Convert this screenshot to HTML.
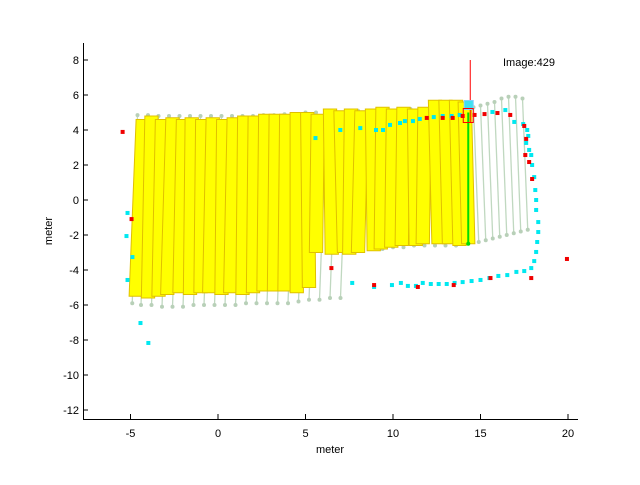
<!DOCTYPE html>
<html><head><meta charset="utf-8"><style>
body{margin:0;background:#fff;}
svg text{font-family:"Liberation Sans",sans-serif;font-size:11px;fill:#000;}
</style></head><body>
<svg id="c" width="640" height="480" xmlns="http://www.w3.org/2000/svg">
<rect width="640" height="480" fill="#fff"/>
<g id="gray"></g><g id="strips"></g><g id="pts"></g><g id="axes"></g>
</svg>
<script>
const xTicks=[-5,0,5,10,15,20];
const yTicks=[8,6,4,2,0,-2,-4,-6,-8,-10,-12];
const stripXTop=[-4.3,-3.8,-3.2,-2.6,-2.0,-1.5,-0.9,-0.3,0.3,0.9,1.5,2.1,2.7,3.3,3.9,4.5,5.1,5.7,6.4,7.0,7.6,8.2,8.8,9.4,10.0,10.6,11.2,11.8,12.4,13.0,13.6,14.1];
const stripXBot=[-4.7,-4.0,-3.4,-2.9,-2.2,-1.6,-1.0,-0.5,0.2,0.7,1.4,2.0,2.6,3.2,3.8,4.5,5.2,5.6,6.5,7.2,7.5,8.0,8.9,9.3,9.9,10.5,11.3,11.7,12.6,13.2,13.8,14.3];
const stripTop=[4.6,4.8,4.6,4.7,4.6,4.7,4.6,4.7,4.6,4.7,4.8,4.8,4.9,4.9,4.9,5.0,5.0,4.9,5.2,5.1,5.2,5.1,5.2,5.3,5.2,5.3,5.2,5.3,5.7,5.7,5.7,5.6];
const stripBot=[-5.5,-5.6,-5.5,-5.4,-5.3,-5.4,-5.3,-5.3,-5.4,-5.3,-5.4,-5.3,-5.2,-5.2,-5.2,-5.3,-5.0,-3.0,-3.1,-3.0,-3.1,-3.0,-2.9,-2.8,-2.7,-2.6,-2.6,-2.5,-2.5,-2.5,-2.6,-2.5];
const grayTopX=[-4.6,-4.0,-3.4,-2.8,-2.2,-1.6,-1.0,-0.4,0.2,0.8,1.4,2.0,2.6,3.2,3.8,4.4,5.0,5.6,6.2,6.8,7.4,8.0,8.6,9.2,9.8,10.4,11.0,11.6,12.2,12.8,13.4,14.0,14.6,15.0,15.4,15.8,16.2,16.6,17.0,17.4];
const grayTopY=[4.85,4.85,4.8,4.8,4.8,4.8,4.8,4.8,4.8,4.8,4.8,4.8,4.85,4.85,4.9,4.9,5.0,5.0,5.0,5.0,5.1,5.1,5.1,5.1,5.1,5.2,5.2,5.2,5.2,5.2,5.2,5.3,5.3,5.4,5.5,5.6,5.8,5.9,5.9,5.8];
const grayBotX=[-4.9,-4.4,-3.8,-3.2,-2.6,-2.0,-1.4,-0.8,-0.2,0.4,1.0,1.6,2.2,2.8,3.4,4.0,4.6,5.2,5.8,6.4,7.0,7.6,8.2,8.8,9.4,10.0,10.6,11.2,11.8,12.4,13.0,13.6,14.9,15.3,15.7,16.1,16.5,16.9,17.3,17.7];
const grayBotY=[-5.9,-6.0,-6.0,-6.1,-6.1,-6.1,-6.0,-6.0,-6.0,-6.0,-6.0,-5.9,-5.9,-5.9,-5.9,-5.9,-5.8,-5.7,-5.7,-5.6,-5.6,-2.9,-2.9,-2.8,-2.8,-2.7,-2.7,-2.6,-2.6,-2.6,-2.6,-2.6,-2.4,-2.3,-2.2,-2.1,-2.0,-1.9,-1.8,-1.7];
const cyanX=[-5.17,-5.23,-4.89,-5.17,-4.43,-3.98,5.57,6.99,8.13,9.03,9.43,9.83,10.4,10.68,11.14,11.53,12.33,12.84,13.35,13.81,15.68,16.42,16.93,17.44,17.67,17.73,17.61,17.78,17.9,17.95,18.07,18.13,18.18,18.18,18.3,18.3,18.24,18.18,18.07,17.9,17.5,17.05,16.53,16.02,15.51,15.0,14.49,13.98,13.52,13.07,12.61,12.16,11.7,11.31,10.85,10.45,9.94,8.92,7.67];
const cyanY=[-0.74,-2.06,-3.26,-4.57,-7.03,-8.17,3.54,4.0,4.11,4.0,4.0,4.29,4.4,4.51,4.51,4.63,4.74,4.8,4.8,4.86,5.03,5.14,4.46,4.34,4.0,3.66,3.26,2.86,2.57,2.0,1.31,0.57,0,-0.57,-1.26,-1.83,-2.4,-2.97,-3.49,-3.89,-4.06,-4.11,-4.29,-4.34,-4.46,-4.57,-4.63,-4.69,-4.74,-4.8,-4.8,-4.8,-4.74,-4.91,-4.91,-4.74,-4.86,-4.97,-4.74];
const redX=[-5.45,-4.94,6.48,8.92,11.42,13.47,15.57,17.9,19.94,17.95,17.78,17.56,17.61,17.5,16.7,15.97,15.23,14.66,13.98,13.41,12.84,11.93];
const redY=[3.89,-1.09,-3.89,-4.86,-4.97,-4.86,-4.46,-4.46,-3.37,1.2,2.17,2.57,3.49,4.23,4.86,4.97,4.91,4.86,4.8,4.69,4.69,4.69];
const robotX=[14.3], robotY=[5.0], rayTop=[8.0], greenBot=[-2.5];

const X=v=>218+v*17.5, Y=v=>200-v*17.5;
const NS='http://www.w3.org/2000/svg';
function mk(tag,parent,attrs){const e=document.createElementNS(NS,tag);for(const k in attrs)e.setAttribute(k,attrs[k]);document.getElementById(parent).appendChild(e);return e;}
for(let i=0;i<grayTopX.length;i++){
 const l=mk('line','gray',{x1:X(grayTopX[i]),y1:Y(grayTopY[i]),x2:X(grayBotX[i]),y2:Y(grayBotY[i]),stroke:'#c0d8c0','stroke-width':1.3});
 
 
 [[grayTopX[i],grayTopY[i]],[grayBotX[i],grayBotY[i]]].forEach(p=>{const c=mk('circle','gray',{cx:X(p[0]),cy:Y(p[1]),r:2,fill:'#b8d0b8'});
 
 });
}
const w=0.38;
for(let i=0;i<stripXTop.length;i++){
 const pts=[[stripXTop[i]-w,stripTop[i]],[stripXTop[i]+w,stripTop[i]],[stripXBot[i]+w,stripBot[i]],[stripXBot[i]-w,stripBot[i]]].map(p=>X(p[0])+','+Y(p[1])).join(' ');
 const s=mk('polygon','strips',{points:pts,fill:'#ffff00',stroke:'#e0c000','stroke-width':1});
 
 
}
cyanX.forEach((v,i)=>{const c=mk('rect','pts',{x:X(v)-2,y:Y(cyanY[i])-2,width:4,height:4,fill:'#00e8f0'});
 
 });
redX.forEach((v,i)=>{const c=mk('rect','pts',{x:X(v)-2,y:Y(redY[i])-2,width:4,height:4,fill:'#f00000'});
 
 });
const rx=X(robotX[0]), ry=Y(robotY[0]);
let e=mk('line','pts',{x1:rx,y1:ry,x2:rx,y2:Y(greenBot[0]),stroke:'#00dd00','stroke-width':2});


e=mk('circle','pts',{cx:rx,cy:Y(greenBot[0]),r:2,fill:'#00dd00'});


e=mk('line','pts',{x1:rx+2,y1:Y(rayTop[0]),x2:rx+2,y2:ry+10,stroke:'#f00','stroke-width':1});


e=mk('rect','pts',{x:rx-4,y:ry-12,width:9,height:9,fill:'#40e0f0',stroke:'#80d0ff'});


e=mk('rect','pts',{x:rx-5,y:ry-4,width:10,height:14,fill:'none',stroke:'#f00'});


e=mk('path','axes',{d:'M83.5,43V419.5H578',stroke:'#000',fill:'none','stroke-width':1});


xTicks.forEach(t=>{mk('line','axes',{x1:X(t),x2:X(t),y1:419,y2:414,stroke:'#000'});
 const tx=mk('text','axes',{x:X(t),y:437,'text-anchor':'middle'});tx.textContent=t;
 
 });
yTicks.forEach(t=>{mk('line','axes',{x1:83,x2:88,y1:Y(t),y2:Y(t),stroke:'#000'});
 const tx=mk('text','axes',{x:79,y:Y(t)+4,'text-anchor':'end'});tx.textContent=t;
 
 });
</script>
<svg style="position:absolute;left:0;top:0" width="640" height="480">
<text x="330" y="453" text-anchor="middle" font-family="Liberation Sans" font-size="11">meter</text>
<text x="52" y="231" text-anchor="middle" font-family="Liberation Sans" font-size="11" transform="rotate(-90 52 231)">meter</text>
<text x="503" y="66" font-family="Liberation Sans" font-size="12">Image:429</text>
</svg>
</body></html>
